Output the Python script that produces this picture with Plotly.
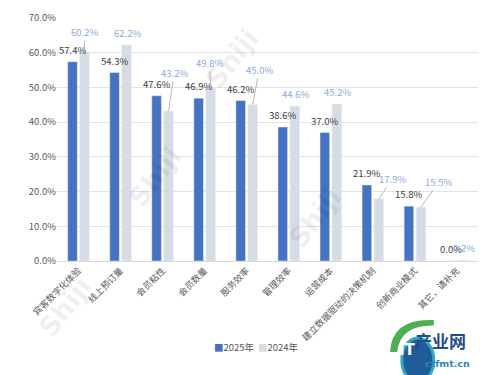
import plotly.graph_objects as go

categories = ["宾客数字化体验", "线上预订量", "会员粘性", "会员数量", "服务效率",
              "管理效率", "运营成本", "建立数据驱动的决策机制", "创新商业模式", "其它，请补充"]
v2025 = [57.4, 54.3, 47.6, 46.9, 46.2, 38.6, 37.0, 21.9, 15.8, 0.0]
v2024 = [60.2, 62.2, 43.2, 49.8, 45.0, 44.6, 45.2, 17.9, 15.5, 0.2]
y_ticks = [0, 10, 20, 30, 40, 50, 60, 70]
y_ticklabels = ["0.0%", "10.0%", "20.0%", "30.0%", "40.0%", "50.0%", "60.0%", "70.0%"]
series_names = ["2025年", "2024年"]

# label leader-line offsets (pixels) for the 2024 series; None = plain label above the bar
leader2024 = [(0, -20), None, (5.5, -38), (-1, -25), (6.5, -35), None, None, (13.5, -20), (18, -25.6), None]

FONT = "Noto Sans CJK SC, Noto Sans, sans-serif"
BLUE = "#4472C4"
GREY = "#D6DCE5"
LBL25 = "#404040"
LBL24 = "#8FAADC"

fig = go.Figure()
fig.add_bar(x=categories, y=v2025, name=series_names[0], marker_color=BLUE, showlegend=False)
fig.add_bar(x=categories, y=v2024, name=series_names[1], marker_color=GREY, showlegend=False)

ann = []

# watermarks (very faint)
for (wx, wy) in [(0.416, 0.99), (0.15, 0.346), (0.613, 0.02), (-0.064, -0.346)]:
    ann.append(dict(x=wx, y=wy, xref="paper", yref="paper", text="<b>Shiji</b>", showarrow=False,
                    textangle=-52, font=dict(size=27, color="rgba(0,0,0,0.07)", family="DejaVu Sans")))

for c, v in zip(categories, v2025):
    ann.append(dict(x=c, y=v, xref="x", yref="y", xshift=-6, yshift=3, showarrow=False,
                    yanchor="bottom", text=f"{v:.1f}%",
                    font=dict(size=9.5, color=LBL25, family=FONT)))
for c, v, ld in zip(categories, v2024, leader2024):
    if ld is None:
        ann.append(dict(x=c, y=v, xref="x", yref="y", xshift=7, yshift=3, showarrow=False,
                        yanchor="bottom", text=f"{v:.1f}%",
                        font=dict(size=9.5, color=LBL24, family=FONT)))
    else:
        ann.append(dict(x=c, y=v, xref="x", yref="y", xshift=6, showarrow=True,
                        ax=ld[0], ay=ld[1], arrowhead=0, arrowwidth=0.8, arrowcolor="#A6A6A6",
                        standoff=0, startstandoff=0, text=f"{v:.1f}%",
                        font=dict(size=9.5, color=LBL24, family=FONT)))

# legend drawn as text
ann.append(dict(x=0.368, y=-0.392, xref="paper", yref="paper", showarrow=False, xanchor="left",
                text=f'<span style="color:{BLUE}">■</span>{series_names[0]}',
                font=dict(size=9.5, color="#595959", family=FONT)))
ann.append(dict(x=0.472, y=-0.392, xref="paper", yref="paper", showarrow=False, xanchor="left",
                text=f'<span style="color:{GREY}">■</span>{series_names[1]}',
                font=dict(size=9.5, color="#595959", family=FONT)))

shapes = [
    dict(type="circle", xref="paper", yref="paper", x0=0.819, x1=0.895, y0=-0.50, y1=-0.317,
         fillcolor="#1F5C99", line=dict(color="#35A7C9", width=3), layer="above"),
    dict(type="path", xref="paper", yref="paper",
         path="M 0.791,-0.374 Q 0.795,-0.235 0.895,-0.243 L 0.895,-0.265 Q 0.815,-0.262 0.808,-0.374 Z",
         fillcolor="#4CAF50", line=dict(width=0), layer="above"),
]

# logo text
ann.append(dict(x=0.977, y=-0.387, xref="paper", yref="paper", text="<b>产业网</b>", showarrow=False,
                font=dict(size=17, color="#1F4E8C", family=FONT)))
ann.append(dict(x=0.986, y=-0.452, xref="paper", yref="paper", text="<b>ctfmt.cn</b>", showarrow=False,
                font=dict(size=9.5, color="#2E86C1", family="DejaVu Sans")))
ann.append(dict(x=0.857, y=-0.41, xref="paper", yref="paper", text="<b>IT</b>", showarrow=False,
                font=dict(size=15, color="white", family="DejaVu Sans")))

fig.update_layout(
    width=500, height=375,
    margin=dict(l=57, r=22, t=18, b=114, autoexpand=False),
    paper_bgcolor="white", plot_bgcolor="white",
    barmode="group", bargap=0.43, bargroupgap=0.2,
    font=dict(family=FONT, size=9.5, color="#595959"),
    showlegend=False,
    annotations=ann,
    shapes=shapes,
    xaxis=dict(tickangle=-45, tickfont=dict(size=9, color="#595959"), showline=True,
               linecolor="#D9D9D9", linewidth=1, ticks="", showgrid=False, automargin=False),
    yaxis=dict(range=[0, 70], tickvals=y_ticks, ticktext=y_ticklabels, showgrid=True,
               gridcolor="#E3E3E3", gridwidth=1, zeroline=False, ticks="", automargin=False,
               tickfont=dict(size=9.5, color="#595959")),
)

fig.write_html("out.html", config={"displayModeBar": False},
               post_script="document.body.style.margin='0px';document.body.style.overflow='hidden';")
